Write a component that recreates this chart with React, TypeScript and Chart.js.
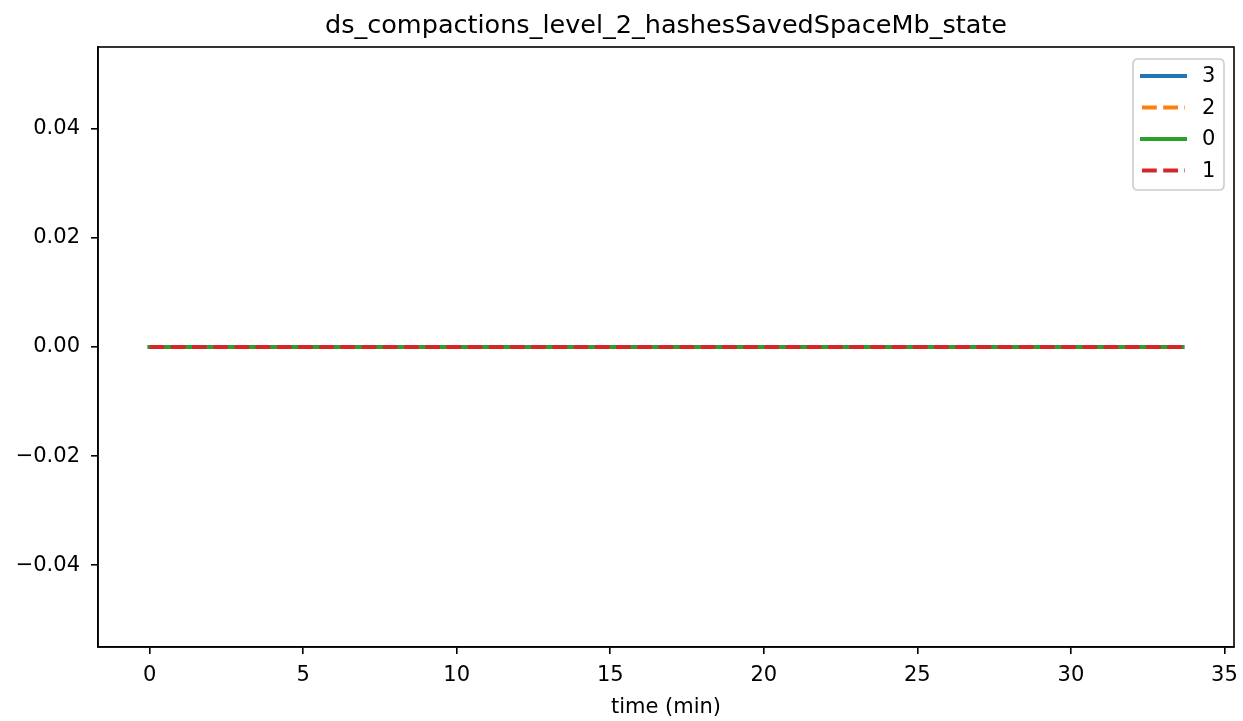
import React, { useEffect, useRef } from "react";
import { Chart, registerables } from "chart.js";

Chart.register(...registerables);

const chartTitle = "ds_compactions_level_2_hashesSavedSpaceMb_state";
const xAxisLabel = "time (min)";

const timeMin = [0, 2.1, 4.2, 6.3, 8.4, 10.5, 12.6, 14.7, 16.8, 18.9, 21.0, 23.1, 25.2, 27.3, 29.4, 31.5, 33.63];
const series3 = [0, 0, 0, 0, 0, 0, 0, 0, 0, 0, 0, 0, 0, 0, 0, 0, 0];
const series2 = [0, 0, 0, 0, 0, 0, 0, 0, 0, 0, 0, 0, 0, 0, 0, 0, 0];
const series0 = [0, 0, 0, 0, 0, 0, 0, 0, 0, 0, 0, 0, 0, 0, 0, 0, 0];
const series1 = [0, 0, 0, 0, 0, 0, 0, 0, 0, 0, 0, 0, 0, 0, 0, 0, 0];

const seriesNames = ["3", "2", "0", "1"];
const seriesValues = [series3, series2, series0, series1];
const seriesColors = ["#1f77b4", "#ff7f0e", "#2ca02c", "#d62728"];
const seriesDashed = [false, true, false, true];

const xTicks = [0, 5, 10, 15, 20, 25, 30, 35];
const yTicks = [-0.04, -0.02, 0, 0.02, 0.04];
const xMin = -1.68;
const xMax = 35.31;
const yMin = -0.055;
const yMax = 0.055;

const FONT = "'DejaVu Sans', sans-serif";
const DASH = [14.8, 6.4];
const TICK_SIZE = 21;
const TITLE_SIZE = 25.5;

export default function App() {
  const ref = useRef<HTMLCanvasElement | null>(null);

  useEffect(() => {
    if (!ref.current) return;
    const datasets = seriesNames.map((name, i) => ({
      label: name,
      data: timeMin.map((t, k) => ({ x: t, y: seriesValues[i][k] })),
      borderColor: seriesColors[i],
      backgroundColor: seriesColors[i],
      borderWidth: 4,
      borderDash: seriesDashed[i] ? DASH : [],
      borderCapStyle: seriesDashed[i] ? "butt" : "square",
      pointRadius: 0,
      fill: false,
      tension: 0,
      order: seriesNames.length - i,
    }));

    const framePlugin = {
      id: "frame",
      afterDraw(chart: any) {
        const { ctx, chartArea } = chart;
        const { left, right, top, bottom } = chartArea;
        ctx.save();
        ctx.strokeStyle = "#000";
        ctx.lineWidth = 1.6;
        ctx.strokeRect(left, top, right - left, bottom - top);
        ctx.fillStyle = "#000";
        ctx.font = `${TITLE_SIZE}px ${FONT}`;
        ctx.textAlign = "center";
        ctx.textBaseline = "alphabetic";
        ctx.fillText(chartTitle, (left + right) / 2, top - 14);
        ctx.font = `${TICK_SIZE}px ${FONT}`;
        ctx.fillText(xAxisLabel, (left + right) / 2, bottom + 66);
        // legend
        const bx = right - 101;
        const by = top + 12;
        const bw = 91;
        const bh = 131;
        const r = 5;
        ctx.beginPath();
        ctx.moveTo(bx + r, by);
        ctx.lineTo(bx + bw - r, by);
        ctx.quadraticCurveTo(bx + bw, by, bx + bw, by + r);
        ctx.lineTo(bx + bw, by + bh - r);
        ctx.quadraticCurveTo(bx + bw, by + bh, bx + bw - r, by + bh);
        ctx.lineTo(bx + r, by + bh);
        ctx.quadraticCurveTo(bx, by + bh, bx, by + bh - r);
        ctx.lineTo(bx, by + r);
        ctx.quadraticCurveTo(bx, by, bx + r, by);
        ctx.closePath();
        ctx.fillStyle = "rgba(255,255,255,0.8)";
        ctx.fill();
        ctx.strokeStyle = "#cccccc";
        ctx.lineWidth = 1.6;
        ctx.stroke();
        seriesNames.forEach((name, i) => {
          const y = by + 17 + i * 31.5;
          ctx.beginPath();
          ctx.strokeStyle = seriesColors[i];
          ctx.lineWidth = 4;
          if (seriesDashed[i]) {
            ctx.setLineDash(DASH);
            ctx.lineCap = "butt";
          } else {
            ctx.setLineDash([]);
            ctx.lineCap = "square";
          }
          ctx.moveTo(bx + 9, y);
          ctx.lineTo(bx + 52, y);
          ctx.stroke();
          ctx.setLineDash([]);
          ctx.fillStyle = "#000";
          ctx.font = `${TICK_SIZE}px ${FONT}`;
          ctx.textAlign = "left";
          ctx.textBaseline = "middle";
          ctx.fillText(name, bx + 69, y + 1);
        });
        ctx.restore();
      },
    };

    const chart = new Chart(ref.current, {
      type: "line",
      data: { datasets: datasets as any },
      options: {
        animation: false,
        responsive: false,
        devicePixelRatio: 1,
        layout: { padding: { left: 0, right: 9, top: 47, bottom: 0 } },
        plugins: {
          legend: { display: false },
          tooltip: { enabled: false },
          title: { display: false },
        },
        scales: {
          x: {
            type: "linear",
            min: xMin,
            max: xMax,
            afterBuildTicks: (s: any) => {
              s.ticks = xTicks.map((v) => ({ value: v }));
            },
            afterFit: (s: any) => {
              s.height = 74;
              s.paddingLeft = 0;
              s.paddingRight = 0;
            },
            ticks: {
              autoSkip: false,
              maxRotation: 0,
              color: "#000",
              padding: 9,
              font: { family: FONT, size: TICK_SIZE },
              callback: (v: any) => String(v),
            },
            grid: {
              display: true,
              drawOnChartArea: false,
              drawTicks: true,
              tickLength: 7,
              color: "#000",
              lineWidth: 1.6,
            },
            border: { display: true, color: "#000", width: 1.6 },
          },
          y: {
            type: "linear",
            min: yMin,
            max: yMax,
            afterBuildTicks: (s: any) => {
              s.ticks = yTicks.map((v) => ({ value: v }));
            },
            afterFit: (s: any) => {
              s.width = 98;
              s.paddingTop = 0;
              s.paddingBottom = 0;
            },
            ticks: {
              color: "#000",
              padding: 11,
              font: { family: FONT, size: TICK_SIZE },
              callback: (v: any) => {
                const n = Number(v);
                if (Math.abs(n) < 1e-12) return "0.00";
                return n < 0 ? "\u2212" + Math.abs(n).toFixed(2) : n.toFixed(2);
              },
            },
            grid: {
              display: true,
              drawOnChartArea: false,
              drawTicks: true,
              tickLength: 7,
              color: "#000",
              lineWidth: 1.6,
            },
            border: { display: true, color: "#000", width: 1.6 },
          },
        },
      },
      plugins: [framePlugin],
    });
    return () => chart.destroy();
  }, []);

  return (
    <div style={{ position: "absolute", left: 0, top: 0, width: 1243, height: 721, background: "#fff" }}>
      <canvas ref={ref} width={1243} height={721} style={{ display: "block", width: 1243, height: 721 }} />
    </div>
  );
}
